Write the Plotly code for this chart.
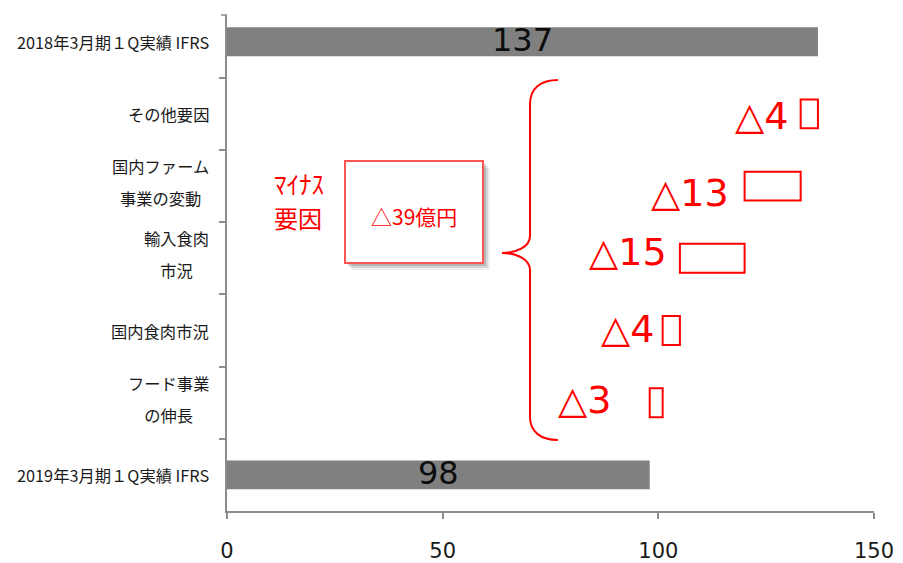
import plotly.graph_objects as go

# ---- data -------------------------------------------------------------
categories = [
    "2018年3月期１Q実績 IFRS",
    "その他要因",
    "国内ファーム<br>事業の変動",
    "輸入食肉<br>市況",
    "国内食肉市況",
    "フード事業<br>の伸長",
    "2019年3月期１Q実績 IFRS",
]
start_total = 137
end_total = 98
changes = [-4, -13, -15, -4, -3]          # contribution of each factor
x_ticks = [0, 50, 100, 150]
total_change_label = "△39億円"
group_label_lines = ["ﾏｲﾅｽ", "要因"]

# ---- derived waterfall geometry --------------------------------------
bases, level = [], start_total
for c in changes:
    level += c
    bases.append(level)
lengths = [-c for c in changes]
change_labels = ["△" + str(abs(c)) for c in changes]

# ---- layout helpers (pixel -> paper) ---------------------------------
FIG_W, FIG_H = 903, 563
M_L, M_R, M_T, M_B = 227, 29, 15, 52
PW, PH = FIG_W - M_L - M_R, FIG_H - M_T - M_B


def px(x):
    return (x - M_L) / PW


def py(y):
    return (M_T + PH - y) / PH


RED = "#ff0000"
AXIS = "#8c8c8c"
JP = "Noto Sans CJK JP"

fig = go.Figure()

# totals
fig.add_trace(go.Bar(
    y=[categories[0], categories[-1]],
    x=[start_total, end_total],
    orientation="h",
    width=0.4,
    marker=dict(color="#808080", line=dict(width=0)),
    hoverinfo="skip",
))

# factor boxes (outlined, floating on the running level)
fig.add_trace(go.Bar(
    y=categories[1:-1],
    x=lengths,
    base=bases,
    orientation="h",
    width=0.4,
    marker=dict(color="rgba(255,255,255,0)", line=dict(color=RED, width=2)),
    hoverinfo="skip",
))

annotations = []

# category labels on the left
for cat in categories:
    lines = cat.split("<br>")
    if len(lines) == 1:
        annotations.append(dict(
            x=px(211), xref="paper", xanchor="right",
            y=cat, yref="y", yanchor="middle",
            text=cat, showarrow=False,
            font=dict(family=JP, size=16.3, color="#1a1a1a"),
        ))
    else:
        text = "<br>".join(
            '<span style="font-size:16.3px">%s</span>' % ln for ln in lines)
        annotations.append(dict(
            x=px(211), xref="paper", xanchor="right",
            y=cat, yref="y", yanchor="middle", yshift=4,
            text=text, align="center", showarrow=False,
            font=dict(family=JP, size=24.5, color="#1a1a1a"),
        ))

# values inside the total bars
for cat, val in ((categories[0], start_total), (categories[-1], end_total)):
    annotations.append(dict(
        x=val / 2, xref="x", xanchor="center", y=cat, yref="y",
        text=str(val), showarrow=False, yshift=2,
        font=dict(family="DejaVu Sans", size=32, color="#0d0d0d"),
    ))

# factor labels to the left of each box
label_xshift = [-11, -14, -11, -7, -37]
label_yshift = [-2, -7, 6, 2, 3]
for i, lab in enumerate(change_labels):
    annotations.append(dict(
        x=bases[i], xref="x", xanchor="right", xshift=label_xshift[i],
        y=categories[i + 1], yref="y", yshift=label_yshift[i],
        text=lab, showarrow=False,
        font=dict(family="DejaVu Sans", size=38, color=RED),
    ))

# group caption (two separate lines) and summary box text
for line, y_px, size in ((group_label_lines[0], 183, 25),
                         (group_label_lines[1], 217, 24)):
    annotations.append(dict(
        x=px(273), xref="paper", xanchor="left",
        y=py(y_px), yref="paper", yanchor="middle",
        text=line, showarrow=False, borderpad=0,
        font=dict(family=JP, size=size, color=RED),
    ))
annotations.append(dict(
    x=px(414), xref="paper", xanchor="center",
    y=py(216), yref="paper", yanchor="middle",
    text=total_change_label, showarrow=False,
    font=dict(family=JP, size=21, color=RED),
))

shapes = []

# drop shadow and summary box
for off, alpha in ((7, 0.06), (5, 0.10), (3, 0.16)):
    shapes.append(dict(
        type="rect", xref="paper", yref="paper",
        x0=px(345 + off), x1=px(483 + off), y0=py(263 + off), y1=py(161 + off),
        fillcolor="rgba(0,0,0,%.2f)" % alpha, line=dict(width=0),
    ))
shapes.append(dict(
    type="rect", xref="paper", yref="paper",
    x0=px(345), x1=px(483), y0=py(263), y1=py(161),
    fillcolor="white", line=dict(color="#ff5555", width=2),
))

# curly brace grouping the factors
brace = (
    f"M {px(558)},{py(80)} "
    f"C {px(541)},{py(80)} {px(530)},{py(88)} {px(530)},{py(104)} "
    f"L {px(530)},{py(236)} "
    f"C {px(530)},{py(247)} {px(516)},{py(253)} {px(502)},{py(253)} "
    f"C {px(516)},{py(253)} {px(530)},{py(259)} {px(530)},{py(270)} "
    f"L {px(530)},{py(417)} "
    f"C {px(530)},{py(432)} {px(541)},{py(440)} {px(558)},{py(440)}"
)
shapes.append(dict(type="path", xref="paper", yref="paper", path=brace,
                   line=dict(color=RED, width=2)))

# small tick closing the top of the category axis
shapes.append(dict(type="line", xref="paper", yref="paper",
                   x0=px(221), x1=0, y0=1, y1=1,
                   line=dict(color=AXIS, width=1.5)))

fig.update_layout(
    width=FIG_W, height=FIG_H,
    margin=dict(l=M_L, r=M_R, t=M_T, b=M_B, autoexpand=False),
    paper_bgcolor="white", plot_bgcolor="white",
    barmode="overlay", showlegend=False,
    annotations=annotations, shapes=shapes,
    xaxis=dict(
        range=[0, 150], tickvals=x_ticks, showgrid=False, zeroline=False,
        automargin=False,
        showline=True, linecolor=AXIS, linewidth=1.5,
        ticks="outside", ticklen=6, tickcolor=AXIS, tickwidth=1.5,
        ticklabelstandoff=14,
        tickfont=dict(family="DejaVu Sans", size=21, color="#1a1a1a"),
    ),
    yaxis=dict(
        type="category", categoryorder="array", categoryarray=categories,
        range=[6.5, -0.37], showgrid=False, zeroline=False,
        automargin=False,
        showline=True, linecolor=AXIS, linewidth=1.5,
        ticks="outside", ticklen=6, tickcolor=AXIS, tickwidth=1.5,
        tickson="boundaries", showticklabels=False,
    ),
)

fig.write_html("out.html")
